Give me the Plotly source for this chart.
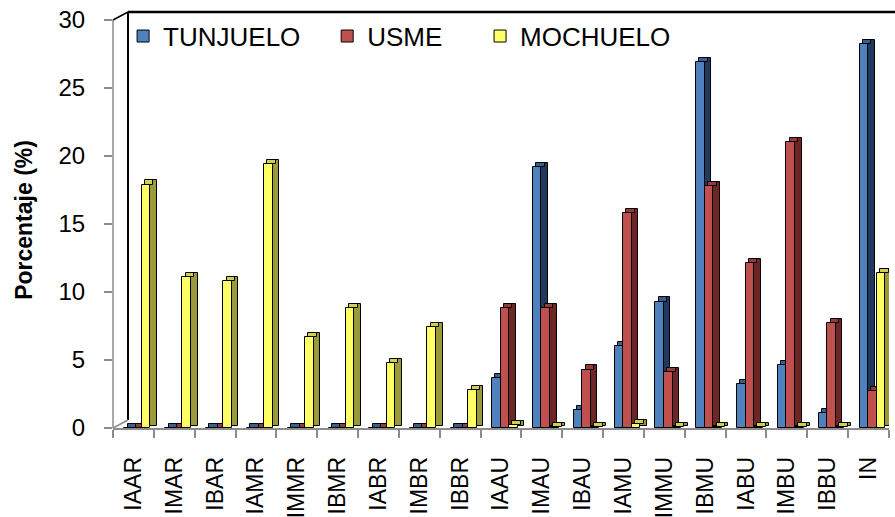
import plotly.graph_objects as go

# Categories and percentages per basin
categories = ["IAAR", "IMAR", "IBAR", "IAMR", "IMMR", "IBMR", "IABR", "IMBR", "IBBR",
              "IAAU", "IMAU", "IBAU", "IAMU", "IMMU", "IBMU", "IABU", "IMBU", "IBBU", "IN"]
tunjuelo = [0, 0, 0, 0, 0, 0, 0, 0, 0, 3.7, 19.2, 1.3, 6.0, 9.3, 26.9, 3.2, 4.6, 1.1, 28.2]
usme = [0, 0, 0, 0, 0, 0, 0, 0, 0, 8.8, 8.8, 4.3, 15.8, 4.1, 17.8, 12.1, 21.0, 7.7, 2.7]
mochuelo = [17.9, 11.1, 10.8, 19.4, 6.7, 8.8, 4.8, 7.4, 2.8, 0.2, 0.1, 0.1, 0.3, 0.1, 0.1, 0.1, 0.1, 0.1, 11.4]
y_ticks = [0, 5, 10, 15, 20, 25, 30]

FONT = "Arial, 'Liberation Sans', sans-serif"
W = 0.21      # front face width (category units)
DX = 0.16     # depth of the side face (category units)
DY = 0.3      # depth of the top face (value units)

series = [
    ("TUNJUELO", tunjuelo, -0.22, "#4F81BD", "#1F3A5C", "#36608F", "legend", 0.013),
    ("USME", usme, -0.01, "#C0504D", "#6E2624", "#953A38", "legend2", 0.276),
    ("MOCHUELO", mochuelo, 0.20, "#FFFF66", "#9A9A3A", "#CFCF50", "legend3", 0.473),
]

fig = go.Figure()
outline = dict(color="#000000", width=1)

for name, vals, off, front, side, top, leg, lx in series:
    # side face: darker strip to the right of the front face
    fig.add_trace(go.Bar(
        x=categories, y=[v + DY / 2 for v in vals], base=DY / 2,
        offset=off + W, width=DX, marker=dict(color=side, line=outline),
        showlegend=False, hoverinfo="skip"))
    # top face: thin slab sitting on the front face
    fig.add_trace(go.Bar(
        x=categories, y=[DY] * len(vals), base=vals,
        offset=off + DX / 2, width=W, marker=dict(color=top, line=outline),
        showlegend=False, hoverinfo="skip"))
    # front face
    fig.add_trace(go.Bar(
        x=categories, y=vals, offset=off, width=W, name=name,
        marker=dict(color=front, line=outline), legend=leg))

legend_style = dict(orientation="h", yanchor="middle", xanchor="left", y=0.942,
                    bgcolor="rgba(0,0,0,0)", borderwidth=0,
                    font=dict(family=FONT, size=26, color="#000000"))

fig.update_layout(
    width=895, height=517,
    margin=dict(l=113, r=6, t=12, b=89),
    paper_bgcolor="#FFFFFF", plot_bgcolor="#FFFFFF",
    barmode="overlay", bargap=0,
    legend=dict(x=series[0][7], **legend_style),
    legend2=dict(x=series[1][7], **legend_style),
    legend3=dict(x=series[2][7], **legend_style),
    font=dict(family=FONT, color="#000000"),
    xaxis=dict(
        type="category", categoryorder="array", categoryarray=categories,
        range=[-0.5, len(categories) - 0.5], automargin=False,
        showgrid=False, zeroline=False,
        showline=True, linecolor="#8C8C8C", linewidth=1.5,
        ticks="outside", tickson="boundaries", ticklen=8, tickcolor="#8C8C8C", tickwidth=1.5,
        tickangle=-90, ticklabelstandoff=18,
        tickfont=dict(family=FONT, size=23, color="#000000")),
    yaxis=dict(
        range=[0, 30 * 416 / 408], tickvals=y_ticks, automargin=False,
        showgrid=False, zeroline=False, showline=False,
        ticks="outside", ticklen=8, tickcolor="#8C8C8C", tickwidth=1.5,
        ticklabelstandoff=14,
        tickfont=dict(family=FONT, size=24, color="#000000"),
        title=dict(text="<b>Porcentaje (%)</b>", standoff=19,
                   font=dict(family=FONT, size=23, color="#000000"))),
)

# 3-D frame: front value axis, back wall edges and floor corner
bx, by = 15 / 776, 8 / 416
frame = [
    dict(xref="paper", yref="y", x0=0, x1=0, y0=0, y1=30, color="#8C8C8C", width=1.5),
    dict(xref="paper", yref="paper", x0=bx, x1=bx, y0=by, y1=1, color="#000000", width=2),
    dict(xref="paper", yref="paper", x0=bx, x1=1.008, y0=1, y1=1, color="#000000", width=2.5),
    dict(xref="paper", yref="paper", x0=0, x1=bx, y0=30 / (30 * 416 / 408), y1=1, color="#000000", width=1.5),
    dict(xref="paper", yref="paper", x0=0, x1=bx, y0=0, y1=by, color="#8C8C8C", width=1.5),
]
for f in frame:
    fig.add_shape(type="line", xref=f["xref"], yref=f["yref"], x0=f["x0"], x1=f["x1"],
                  y0=f["y0"], y1=f["y1"], line=dict(color=f["color"], width=f["width"]),
                  layer="below")

fig.write_html("out.html")
